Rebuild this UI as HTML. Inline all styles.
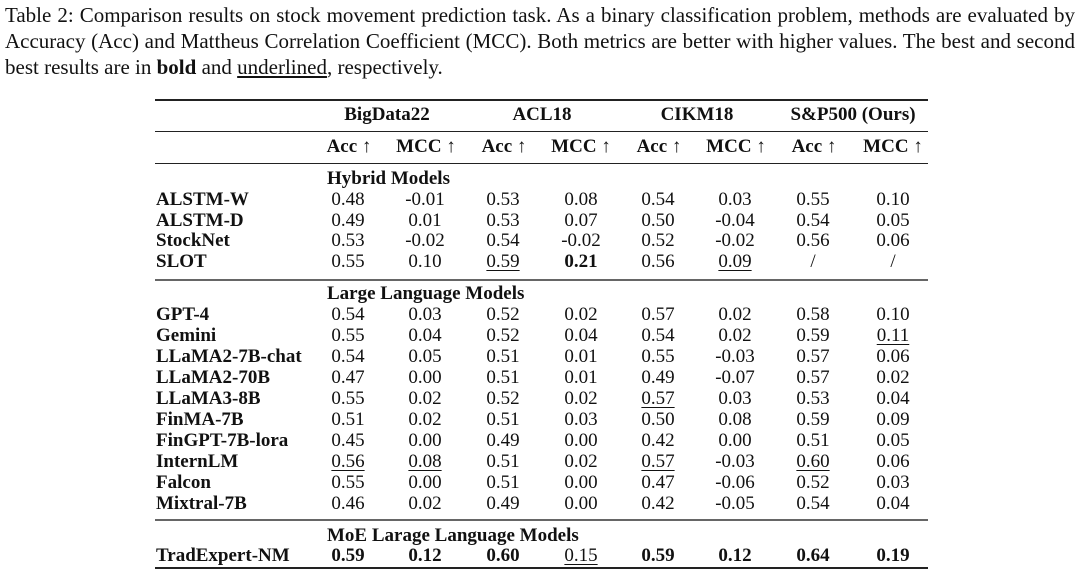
<!DOCTYPE html>
<html><head><meta charset="utf-8"><style>
body{margin:0;width:1080px;height:582px;background:#fff;position:relative;overflow:hidden;font-family:"Liberation Serif",serif;color:#111}
.cl{position:absolute;left:5px;width:1070px;font-size:21px;line-height:26px;white-space:nowrap;text-align:justify;text-align-last:justify}
.r{position:absolute;left:0;width:1080px;height:20px;font-size:19px;line-height:20px}
.r span{position:absolute;top:0;transform:translateX(-50%);white-space:nowrap}
.r span.l{transform:none;left:156px;font-weight:bold}
.b{font-weight:bold}
.u{text-decoration:underline;text-underline-offset:3px;text-decoration-thickness:1px}
.h{position:absolute;left:155px;width:773px;background:#222}
</style></head><body>
<div class="cl" style="top:2px">Table 2: Comparison results on stock movement prediction task. As a binary classification problem, methods are evaluated by</div>
<div class="cl" style="top:28px">Accuracy (Acc) and Mattheus Correlation Coefficient (MCC). Both metrics are better with higher values. The best and second</div>
<div class="cl" style="top:54px;text-align-last:left">best results are in <b>bold</b> and <u>underlined</u>, respectively.</div>

<div class="h" style="top:99px;height:2px"></div>
<div class="h" style="top:131px;height:1px"></div>
<div class="h" style="top:163px;height:1px"></div>
<div class="h" style="top:279px;height:2px;background:#666"></div>
<div class="h" style="top:519px;height:2px;background:#666"></div>
<div class="h" style="top:567px;height:2px"></div>

<div class="r b" style="top:105px"><span style="left:387px">BigData22</span><span style="left:542px">ACL18</span><span style="left:697px">CIKM18</span><span style="left:853px">S&amp;P500 (Ours)</span></div>
<div class="r b" style="top:137px"><span style="left:349px">Acc ↑</span><span style="left:426px">MCC ↑</span><span style="left:504px">Acc ↑</span><span style="left:581px">MCC ↑</span><span style="left:659px">Acc ↑</span><span style="left:736px">MCC ↑</span><span style="left:814px">Acc ↑</span><span style="left:893px">MCC ↑</span></div>

<div class="r b" style="top:169px"><span style="left:327px;transform:none">Hybrid Models</span></div>
<div class="r" style="top:190px"><span class="l">ALSTM-W</span><span style="left:348px">0.48</span><span style="left:425px">-0.01</span><span style="left:503px">0.53</span><span style="left:581px">0.08</span><span style="left:658px">0.54</span><span style="left:735px">0.03</span><span style="left:813px">0.55</span><span style="left:893px">0.10</span></div>
<div class="r" style="top:211px"><span class="l">ALSTM-D</span><span style="left:348px">0.49</span><span style="left:425px">0.01</span><span style="left:503px">0.53</span><span style="left:581px">0.07</span><span style="left:658px">0.50</span><span style="left:735px">-0.04</span><span style="left:813px">0.54</span><span style="left:893px">0.05</span></div>
<div class="r" style="top:231px"><span class="l">StockNet</span><span style="left:348px">0.53</span><span style="left:425px">-0.02</span><span style="left:503px">0.54</span><span style="left:581px">-0.02</span><span style="left:658px">0.52</span><span style="left:735px">-0.02</span><span style="left:813px">0.56</span><span style="left:893px">0.06</span></div>
<div class="r" style="top:252px"><span class="l">SLOT</span><span style="left:348px">0.55</span><span style="left:425px">0.10</span><span class="u" style="left:503px">0.59</span><span class="b" style="left:581px">0.21</span><span style="left:658px">0.56</span><span class="u" style="left:735px">0.09</span><span style="left:813px">/</span><span style="left:893px">/</span></div>

<div class="r b" style="top:284px"><span style="left:327px;transform:none">Large Language Models</span></div>
<div class="r" style="top:305px"><span class="l">GPT-4</span><span style="left:348px">0.54</span><span style="left:425px">0.03</span><span style="left:503px">0.52</span><span style="left:581px">0.02</span><span style="left:658px">0.57</span><span style="left:735px">0.02</span><span style="left:813px">0.58</span><span style="left:893px">0.10</span></div>
<div class="r" style="top:326px"><span class="l">Gemini</span><span style="left:348px">0.55</span><span style="left:425px">0.04</span><span style="left:503px">0.52</span><span style="left:581px">0.04</span><span style="left:658px">0.54</span><span style="left:735px">0.02</span><span style="left:813px">0.59</span><span class="u" style="left:893px">0.11</span></div>
<div class="r" style="top:347px"><span class="l">LLaMA2-7B-chat</span><span style="left:348px">0.54</span><span style="left:425px">0.05</span><span style="left:503px">0.51</span><span style="left:581px">0.01</span><span style="left:658px">0.55</span><span style="left:735px">-0.03</span><span style="left:813px">0.57</span><span style="left:893px">0.06</span></div>
<div class="r" style="top:368px"><span class="l">LLaMA2-70B</span><span style="left:348px">0.47</span><span style="left:425px">0.00</span><span style="left:503px">0.51</span><span style="left:581px">0.01</span><span style="left:658px">0.49</span><span style="left:735px">-0.07</span><span style="left:813px">0.57</span><span style="left:893px">0.02</span></div>
<div class="r" style="top:389px"><span class="l">LLaMA3-8B</span><span style="left:348px">0.55</span><span style="left:425px">0.02</span><span style="left:503px">0.52</span><span style="left:581px">0.02</span><span class="u" style="left:658px">0.57</span><span style="left:735px">0.03</span><span style="left:813px">0.53</span><span style="left:893px">0.04</span></div>
<div class="r" style="top:410px"><span class="l">FinMA-7B</span><span style="left:348px">0.51</span><span style="left:425px">0.02</span><span style="left:503px">0.51</span><span style="left:581px">0.03</span><span style="left:658px">0.50</span><span style="left:735px">0.08</span><span style="left:813px">0.59</span><span style="left:893px">0.09</span></div>
<div class="r" style="top:431px"><span class="l">FinGPT-7B-lora</span><span style="left:348px">0.45</span><span style="left:425px">0.00</span><span style="left:503px">0.49</span><span style="left:581px">0.00</span><span style="left:658px">0.42</span><span style="left:735px">0.00</span><span style="left:813px">0.51</span><span style="left:893px">0.05</span></div>
<div class="r" style="top:452px"><span class="l">InternLM</span><span class="u" style="left:348px">0.56</span><span class="u" style="left:425px">0.08</span><span style="left:503px">0.51</span><span style="left:581px">0.02</span><span class="u" style="left:658px">0.57</span><span style="left:735px">-0.03</span><span class="u" style="left:813px">0.60</span><span style="left:893px">0.06</span></div>
<div class="r" style="top:473px"><span class="l">Falcon</span><span style="left:348px">0.55</span><span style="left:425px">0.00</span><span style="left:503px">0.51</span><span style="left:581px">0.00</span><span style="left:658px">0.47</span><span style="left:735px">-0.06</span><span style="left:813px">0.52</span><span style="left:893px">0.03</span></div>
<div class="r" style="top:494px"><span class="l">Mixtral-7B</span><span style="left:348px">0.46</span><span style="left:425px">0.02</span><span style="left:503px">0.49</span><span style="left:581px">0.00</span><span style="left:658px">0.42</span><span style="left:735px">-0.05</span><span style="left:813px">0.54</span><span style="left:893px">0.04</span></div>

<div class="r b" style="top:526px"><span style="left:327px;transform:none">MoE Larage Language Models</span></div>
<div class="r" style="top:546px"><span class="l">TradExpert-NM</span><span class="b" style="left:348px">0.59</span><span class="b" style="left:425px">0.12</span><span class="b" style="left:503px">0.60</span><span class="u" style="left:581px">0.15</span><span class="b" style="left:658px">0.59</span><span class="b" style="left:735px">0.12</span><span class="b" style="left:813px">0.64</span><span class="b" style="left:893px">0.19</span></div>
</body></html>
